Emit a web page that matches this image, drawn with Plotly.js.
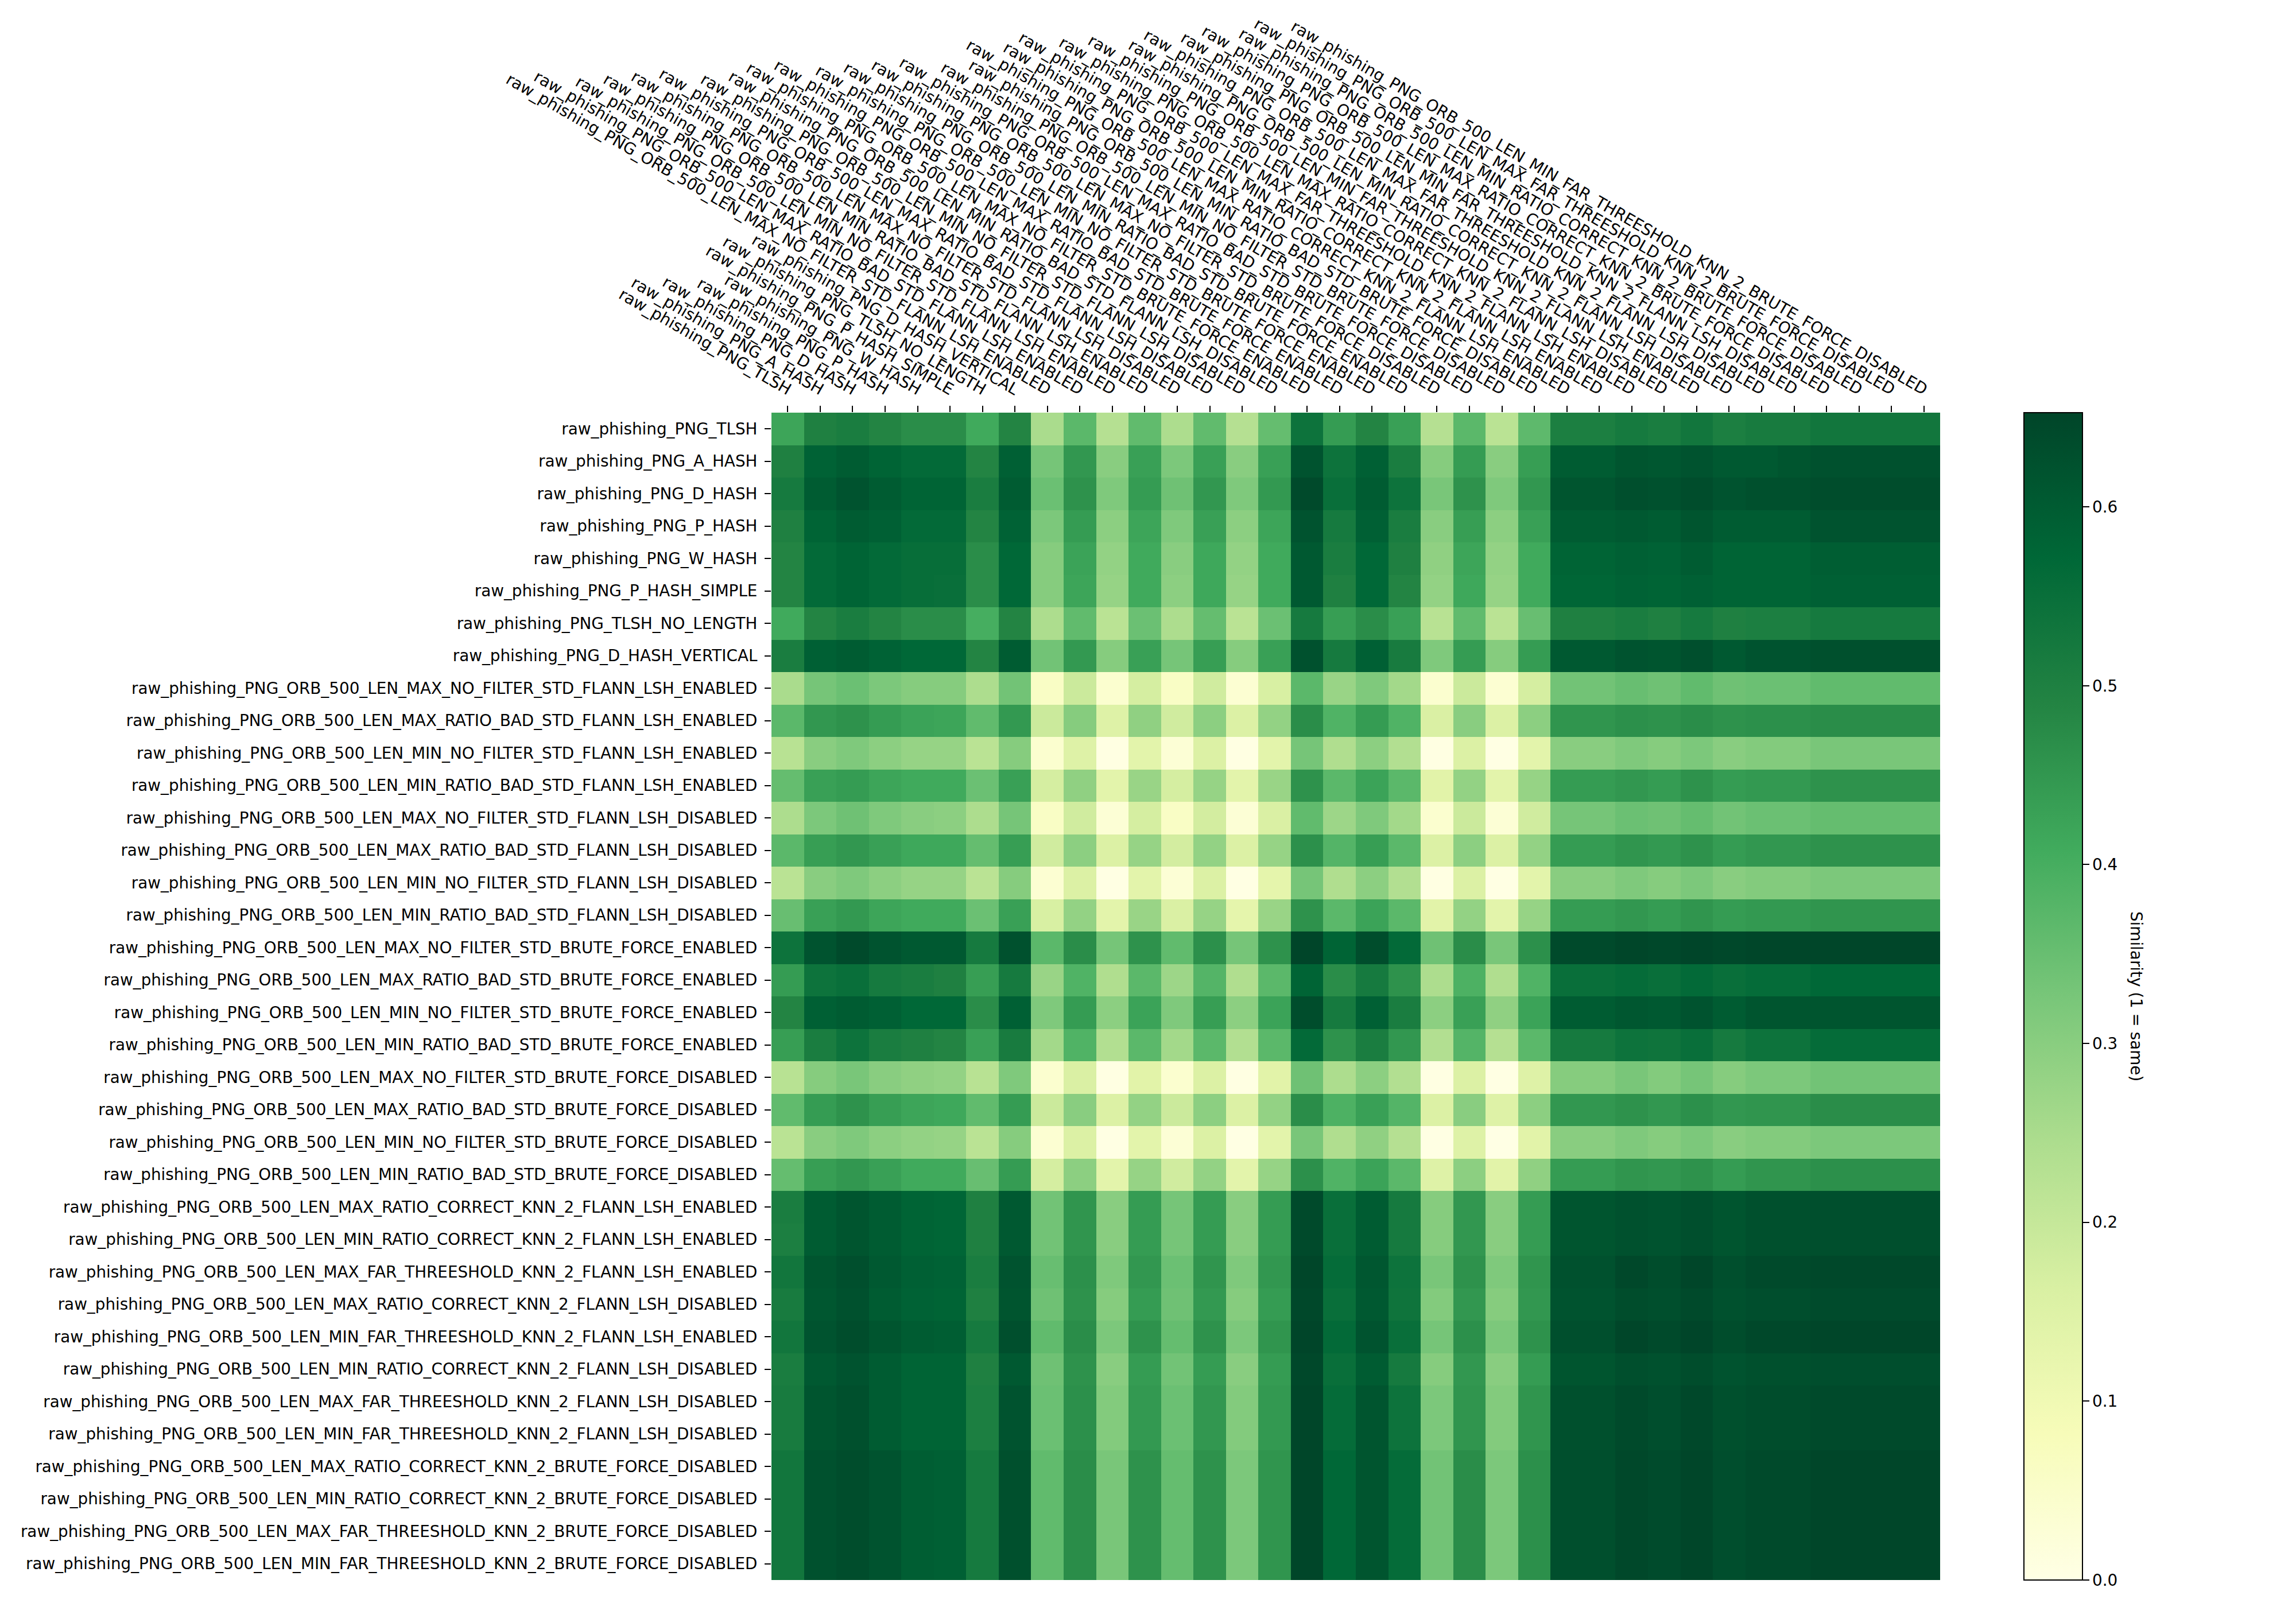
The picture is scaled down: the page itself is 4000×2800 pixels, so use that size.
<!DOCTYPE html>
<html>
<head>
<meta charset="utf-8">
<script src="https://cdn.plot.ly/plotly-3.0.1.min.js"></script>
<style>html,body{margin:0;padding:0;background:#fff;}#chart{width:4000px;height:2800px;}</style>
</head>
<body>
<div id="chart"></div>
<script>
const labels = [
  "raw_phishing_PNG_TLSH",
  "raw_phishing_PNG_A_HASH",
  "raw_phishing_PNG_D_HASH",
  "raw_phishing_PNG_P_HASH",
  "raw_phishing_PNG_W_HASH",
  "raw_phishing_PNG_P_HASH_SIMPLE",
  "raw_phishing_PNG_TLSH_NO_LENGTH",
  "raw_phishing_PNG_D_HASH_VERTICAL",
  "raw_phishing_PNG_ORB_500_LEN_MAX_NO_FILTER_STD_FLANN_LSH_ENABLED",
  "raw_phishing_PNG_ORB_500_LEN_MAX_RATIO_BAD_STD_FLANN_LSH_ENABLED",
  "raw_phishing_PNG_ORB_500_LEN_MIN_NO_FILTER_STD_FLANN_LSH_ENABLED",
  "raw_phishing_PNG_ORB_500_LEN_MIN_RATIO_BAD_STD_FLANN_LSH_ENABLED",
  "raw_phishing_PNG_ORB_500_LEN_MAX_NO_FILTER_STD_FLANN_LSH_DISABLED",
  "raw_phishing_PNG_ORB_500_LEN_MAX_RATIO_BAD_STD_FLANN_LSH_DISABLED",
  "raw_phishing_PNG_ORB_500_LEN_MIN_NO_FILTER_STD_FLANN_LSH_DISABLED",
  "raw_phishing_PNG_ORB_500_LEN_MIN_RATIO_BAD_STD_FLANN_LSH_DISABLED",
  "raw_phishing_PNG_ORB_500_LEN_MAX_NO_FILTER_STD_BRUTE_FORCE_ENABLED",
  "raw_phishing_PNG_ORB_500_LEN_MAX_RATIO_BAD_STD_BRUTE_FORCE_ENABLED",
  "raw_phishing_PNG_ORB_500_LEN_MIN_NO_FILTER_STD_BRUTE_FORCE_ENABLED",
  "raw_phishing_PNG_ORB_500_LEN_MIN_RATIO_BAD_STD_BRUTE_FORCE_ENABLED",
  "raw_phishing_PNG_ORB_500_LEN_MAX_NO_FILTER_STD_BRUTE_FORCE_DISABLED",
  "raw_phishing_PNG_ORB_500_LEN_MAX_RATIO_BAD_STD_BRUTE_FORCE_DISABLED",
  "raw_phishing_PNG_ORB_500_LEN_MIN_NO_FILTER_STD_BRUTE_FORCE_DISABLED",
  "raw_phishing_PNG_ORB_500_LEN_MIN_RATIO_BAD_STD_BRUTE_FORCE_DISABLED",
  "raw_phishing_PNG_ORB_500_LEN_MAX_RATIO_CORRECT_KNN_2_FLANN_LSH_ENABLED",
  "raw_phishing_PNG_ORB_500_LEN_MIN_RATIO_CORRECT_KNN_2_FLANN_LSH_ENABLED",
  "raw_phishing_PNG_ORB_500_LEN_MAX_FAR_THREESHOLD_KNN_2_FLANN_LSH_ENABLED",
  "raw_phishing_PNG_ORB_500_LEN_MAX_RATIO_CORRECT_KNN_2_FLANN_LSH_DISABLED",
  "raw_phishing_PNG_ORB_500_LEN_MIN_FAR_THREESHOLD_KNN_2_FLANN_LSH_ENABLED",
  "raw_phishing_PNG_ORB_500_LEN_MIN_RATIO_CORRECT_KNN_2_FLANN_LSH_DISABLED",
  "raw_phishing_PNG_ORB_500_LEN_MAX_FAR_THREESHOLD_KNN_2_FLANN_LSH_DISABLED",
  "raw_phishing_PNG_ORB_500_LEN_MIN_FAR_THREESHOLD_KNN_2_FLANN_LSH_DISABLED",
  "raw_phishing_PNG_ORB_500_LEN_MAX_RATIO_CORRECT_KNN_2_BRUTE_FORCE_DISABLED",
  "raw_phishing_PNG_ORB_500_LEN_MIN_RATIO_CORRECT_KNN_2_BRUTE_FORCE_DISABLED",
  "raw_phishing_PNG_ORB_500_LEN_MAX_FAR_THREESHOLD_KNN_2_BRUTE_FORCE_DISABLED",
  "raw_phishing_PNG_ORB_500_LEN_MIN_FAR_THREESHOLD_KNN_2_BRUTE_FORCE_DISABLED"
];

const similarity = [
[0.42,0.50,0.51,0.49,0.47,0.47,0.41,0.49, 0.25,0.37,0.23,0.36,0.245,0.36,0.23,0.355, 0.54,0.44,0.49,0.43, 0.23,0.37,0.22,0.365, 0.505,0.505,0.52,0.51,0.53,0.505,0.515,0.515, 0.53,0.53,0.53,0.53],
[0.50,0.585,0.60,0.58,0.565,0.565,0.49,0.59, 0.33,0.45,0.30,0.43,0.32,0.43,0.30,0.43, 0.62,0.54,0.59,0.51, 0.305,0.44,0.30,0.435, 0.60,0.60,0.615,0.61,0.62,0.605,0.605,0.615, 0.625,0.625,0.625,0.625],
[0.52,0.60,0.62,0.60,0.58,0.58,0.51,0.60, 0.345,0.46,0.315,0.44,0.34,0.45,0.315,0.445, 0.64,0.55,0.60,0.54, 0.325,0.46,0.315,0.45, 0.615,0.615,0.63,0.625,0.635,0.62,0.627,0.627, 0.635,0.635,0.635,0.635],
[0.50,0.58,0.60,0.59,0.565,0.565,0.49,0.585, 0.32,0.44,0.295,0.42,0.315,0.43,0.295,0.42, 0.62,0.52,0.59,0.51, 0.30,0.435,0.295,0.43, 0.60,0.60,0.605,0.60,0.615,0.60,0.60,0.60, 0.62,0.62,0.62,0.62],
[0.49,0.565,0.58,0.565,0.555,0.555,0.47,0.57, 0.305,0.425,0.285,0.41,0.30,0.415,0.285,0.41, 0.605,0.51,0.57,0.50, 0.29,0.42,0.285,0.41, 0.58,0.58,0.59,0.585,0.60,0.58,0.58,0.58, 0.595,0.595,0.595,0.595],
[0.49,0.565,0.58,0.565,0.555,0.55,0.47,0.57, 0.305,0.42,0.28,0.41,0.295,0.415,0.28,0.41, 0.605,0.50,0.57,0.49, 0.285,0.415,0.28,0.41, 0.575,0.575,0.585,0.58,0.59,0.58,0.58,0.58, 0.59,0.59,0.59,0.59],
[0.41,0.49,0.51,0.49,0.47,0.47,0.40,0.49, 0.245,0.36,0.22,0.345,0.245,0.355,0.22,0.345, 0.52,0.435,0.47,0.43, 0.225,0.36,0.22,0.35, 0.50,0.50,0.51,0.50,0.52,0.50,0.505,0.505, 0.52,0.52,0.52,0.52],
[0.51,0.59,0.60,0.585,0.57,0.57,0.49,0.60, 0.335,0.445,0.305,0.43,0.33,0.435,0.305,0.43, 0.625,0.52,0.59,0.515, 0.315,0.44,0.305,0.44, 0.605,0.605,0.62,0.615,0.63,0.605,0.62,0.62, 0.627,0.627,0.627,0.627],
[0.25,0.33,0.345,0.32,0.305,0.305,0.245,0.335, 0.06,0.19,0.04,0.17,0.06,0.18,0.035,0.165, 0.37,0.275,0.315,0.26, 0.04,0.19,0.035,0.17, 0.335,0.335,0.35,0.34,0.36,0.34,0.345,0.345, 0.36,0.36,0.36,0.36],
[0.37,0.45,0.46,0.44,0.425,0.42,0.36,0.445, 0.19,0.305,0.15,0.29,0.18,0.295,0.155,0.285, 0.47,0.385,0.44,0.385, 0.16,0.30,0.155,0.295, 0.455,0.455,0.465,0.46,0.47,0.46,0.465,0.465, 0.47,0.47,0.47,0.47],
[0.225,0.30,0.315,0.295,0.28,0.28,0.22,0.305, 0.04,0.15,0.005,0.135,0.03,0.155,0.005,0.135, 0.33,0.24,0.295,0.235, 0.005,0.155,0.003,0.135, 0.30,0.30,0.315,0.305,0.32,0.30,0.31,0.31, 0.325,0.325,0.325,0.325],
[0.355,0.43,0.44,0.42,0.41,0.41,0.345,0.43, 0.17,0.29,0.135,0.275,0.17,0.28,0.135,0.275, 0.46,0.37,0.425,0.37, 0.14,0.285,0.135,0.28, 0.44,0.44,0.45,0.44,0.46,0.44,0.445,0.445, 0.46,0.46,0.46,0.46],
[0.245,0.32,0.34,0.315,0.30,0.295,0.245,0.33, 0.06,0.18,0.03,0.17,0.06,0.175,0.03,0.16, 0.36,0.27,0.315,0.26, 0.04,0.19,0.03,0.18, 0.33,0.33,0.345,0.34,0.355,0.335,0.345,0.345, 0.355,0.355,0.355,0.355],
[0.37,0.435,0.45,0.43,0.415,0.415,0.355,0.435, 0.18,0.295,0.155,0.28,0.175,0.285,0.155,0.28, 0.465,0.38,0.435,0.37, 0.155,0.295,0.155,0.285, 0.44,0.44,0.455,0.445,0.46,0.44,0.45,0.45, 0.46,0.46,0.46,0.46],
[0.22,0.30,0.315,0.295,0.28,0.28,0.22,0.305, 0.035,0.155,0.004,0.135,0.03,0.155,0.003,0.13, 0.33,0.24,0.295,0.235, 0.005,0.155,0.003,0.135, 0.30,0.30,0.315,0.305,0.32,0.30,0.31,0.31, 0.32,0.32,0.32,0.32],
[0.35,0.43,0.445,0.42,0.41,0.41,0.345,0.43, 0.165,0.285,0.135,0.275,0.16,0.28,0.13,0.275, 0.46,0.37,0.425,0.37, 0.14,0.285,0.135,0.28, 0.44,0.44,0.45,0.44,0.455,0.44,0.445,0.445, 0.455,0.455,0.455,0.455],
[0.54,0.62,0.64,0.62,0.605,0.605,0.52,0.625, 0.37,0.47,0.33,0.46,0.36,0.465,0.33,0.46, 0.653,0.58,0.635,0.565, 0.34,0.47,0.325,0.465, 0.64,0.64,0.65,0.645,0.653,0.645,0.65,0.65, 0.65,0.65,0.65,0.65],
[0.44,0.54,0.55,0.52,0.51,0.50,0.435,0.52, 0.275,0.385,0.24,0.37,0.27,0.38,0.24,0.37, 0.58,0.47,0.52,0.46, 0.245,0.39,0.24,0.385, 0.55,0.55,0.56,0.55,0.565,0.55,0.56,0.56, 0.57,0.57,0.57,0.57],
[0.49,0.59,0.60,0.59,0.57,0.57,0.47,0.59, 0.315,0.44,0.295,0.425,0.315,0.435,0.295,0.425, 0.635,0.52,0.59,0.51, 0.295,0.43,0.29,0.425, 0.60,0.60,0.61,0.605,0.62,0.60,0.615,0.615, 0.615,0.615,0.615,0.615],
[0.435,0.51,0.54,0.51,0.50,0.49,0.43,0.515, 0.26,0.385,0.235,0.37,0.26,0.37,0.235,0.37, 0.565,0.46,0.51,0.45, 0.235,0.38,0.23,0.37, 0.52,0.52,0.54,0.535,0.55,0.52,0.54,0.54, 0.56,0.56,0.56,0.56],
[0.225,0.305,0.325,0.30,0.29,0.285,0.225,0.315, 0.04,0.16,0.005,0.14,0.04,0.155,0.005,0.14, 0.34,0.245,0.295,0.235, 0.005,0.155,0.003,0.15, 0.305,0.305,0.325,0.31,0.33,0.305,0.32,0.32, 0.335,0.335,0.335,0.335],
[0.36,0.44,0.46,0.435,0.42,0.415,0.36,0.44, 0.19,0.30,0.155,0.285,0.19,0.295,0.155,0.285, 0.47,0.39,0.43,0.38, 0.155,0.30,0.15,0.295, 0.45,0.45,0.46,0.45,0.465,0.45,0.455,0.455, 0.47,0.47,0.47,0.47],
[0.22,0.30,0.315,0.295,0.285,0.28,0.22,0.305, 0.035,0.155,0.003,0.135,0.03,0.155,0.003,0.135, 0.325,0.24,0.29,0.23, 0.003,0.15,0.002,0.14, 0.30,0.30,0.315,0.305,0.32,0.30,0.31,0.31, 0.32,0.32,0.32,0.32],
[0.355,0.435,0.45,0.43,0.41,0.41,0.35,0.44, 0.17,0.295,0.135,0.28,0.18,0.285,0.135,0.28, 0.465,0.385,0.425,0.37, 0.15,0.295,0.14,0.29, 0.44,0.44,0.455,0.45,0.46,0.44,0.455,0.455, 0.465,0.465,0.465,0.465],
[0.51,0.60,0.615,0.60,0.58,0.575,0.50,0.605, 0.335,0.455,0.30,0.44,0.33,0.44,0.30,0.44, 0.64,0.55,0.60,0.52, 0.305,0.45,0.30,0.44, 0.615,0.615,0.625,0.62,0.63,0.615,0.627,0.627, 0.63,0.63,0.63,0.63],
[0.505,0.60,0.615,0.60,0.58,0.575,0.50,0.605, 0.335,0.455,0.30,0.44,0.33,0.44,0.30,0.44, 0.64,0.55,0.60,0.52, 0.305,0.45,0.30,0.44, 0.615,0.615,0.625,0.62,0.63,0.615,0.627,0.627, 0.63,0.63,0.63,0.63],
[0.53,0.615,0.63,0.605,0.59,0.585,0.51,0.62, 0.35,0.465,0.315,0.45,0.345,0.455,0.315,0.45, 0.65,0.56,0.61,0.54, 0.325,0.46,0.315,0.455, 0.625,0.625,0.645,0.635,0.65,0.63,0.64,0.64, 0.645,0.645,0.645,0.645],
[0.515,0.61,0.625,0.60,0.585,0.58,0.50,0.615, 0.34,0.46,0.305,0.44,0.34,0.445,0.305,0.44, 0.645,0.55,0.605,0.535, 0.31,0.45,0.305,0.45, 0.62,0.62,0.635,0.63,0.64,0.625,0.632,0.632, 0.638,0.638,0.638,0.638],
[0.53,0.62,0.635,0.615,0.60,0.595,0.52,0.63, 0.36,0.47,0.32,0.46,0.355,0.46,0.32,0.455, 0.653,0.565,0.62,0.55, 0.33,0.465,0.32,0.46, 0.63,0.63,0.65,0.64,0.653,0.635,0.645,0.645, 0.65,0.65,0.65,0.65],
[0.51,0.605,0.62,0.60,0.58,0.58,0.50,0.605, 0.34,0.46,0.30,0.44,0.335,0.44,0.30,0.44, 0.645,0.55,0.60,0.52, 0.305,0.45,0.30,0.44, 0.615,0.615,0.63,0.625,0.635,0.62,0.627,0.627, 0.632,0.632,0.632,0.632],
[0.515,0.615,0.627,0.60,0.58,0.58,0.505,0.62, 0.345,0.465,0.31,0.445,0.345,0.45,0.31,0.445, 0.65,0.56,0.615,0.54, 0.32,0.455,0.31,0.455, 0.627,0.627,0.64,0.632,0.645,0.627,0.635,0.635, 0.642,0.642,0.642,0.642],
[0.515,0.615,0.627,0.60,0.58,0.58,0.505,0.62, 0.345,0.465,0.31,0.445,0.345,0.45,0.31,0.445, 0.65,0.56,0.615,0.54, 0.32,0.455,0.31,0.455, 0.627,0.627,0.64,0.632,0.645,0.627,0.635,0.635, 0.642,0.642,0.642,0.642],
[0.53,0.625,0.635,0.62,0.595,0.59,0.52,0.627, 0.36,0.47,0.325,0.46,0.355,0.46,0.32,0.455, 0.65,0.57,0.615,0.56, 0.335,0.47,0.32,0.465, 0.63,0.63,0.645,0.638,0.65,0.632,0.642,0.642, 0.65,0.65,0.65,0.65],
[0.53,0.625,0.635,0.62,0.595,0.59,0.52,0.627, 0.36,0.47,0.325,0.46,0.355,0.46,0.32,0.455, 0.65,0.57,0.615,0.56, 0.335,0.47,0.32,0.465, 0.63,0.63,0.645,0.638,0.65,0.632,0.642,0.642, 0.65,0.65,0.65,0.65],
[0.53,0.625,0.635,0.62,0.595,0.59,0.52,0.627, 0.36,0.47,0.325,0.46,0.355,0.46,0.32,0.455, 0.65,0.57,0.615,0.56, 0.335,0.47,0.32,0.465, 0.63,0.63,0.645,0.638,0.65,0.632,0.642,0.642, 0.65,0.65,0.65,0.65],
[0.53,0.625,0.635,0.62,0.595,0.59,0.52,0.627, 0.36,0.47,0.325,0.46,0.355,0.46,0.32,0.455, 0.65,0.57,0.615,0.56, 0.335,0.47,0.32,0.465, 0.63,0.63,0.645,0.638,0.65,0.632,0.642,0.642, 0.65,0.65,0.65,0.65]
];

const colorbarTicks = [0, 0.1, 0.2, 0.3, 0.4, 0.5, 0.6];
const colorbarTickText = ["0.0", "0.1", "0.2", "0.3", "0.4", "0.5", "0.6"];
const colorbarTitle = "Similarity (1 = same)";

const FONT = "DejaVu Sans, Liberation Sans, sans-serif";
const FS = 27.8;
const ylgn = [[0,'#ffffe5'],[0.125,'#f7fcb9'],[0.25,'#d9f0a3'],[0.375,'#addd8e'],[0.5,'#78c679'],[0.625,'#41ab5d'],[0.75,'#238443'],[0.875,'#006837'],[1,'#004529']];

const trace = {
  type: 'heatmap',
  x: labels,
  y: labels,
  z: similarity,
  zmin: 0,
  zmax: 0.6527,
  colorscale: ylgn,
  showscale: true,
  hoverongaps: false,
  colorbar: {
    x: 1.0717, xanchor: 'left',
    y: 0.5, yanchor: 'middle',
    len: 1, lenmode: 'fraction',
    thickness: 102, thicknessmode: 'pixels',
    outlinewidth: 2, outlinecolor: '#000',
    ticks: 'outside', ticklen: 11, tickwidth: 2, tickcolor: '#000',
    tickvals: colorbarTicks, ticktext: colorbarTickText,
    tickfont: {family: FONT, size: FS, color: '#000'},
    xpad: 0, ypad: 0
  }
};

const layout = {
  width: 4000, height: 2800,
  margin: {l: 1344, r: 620, t: 719, b: 47, pad: 0},
  paper_bgcolor: '#fff', plot_bgcolor: '#fff',
  font: {family: FONT, size: FS, color: '#000'},
  xaxis: {
    side: 'top', type: 'category',
    tickangle: 30,
    ticks: 'outside', ticklen: 11, tickwidth: 2, tickcolor: '#000',
    ticklabelshift: 6, ticklabelstandoff: 5,
    showgrid: false, zeroline: false, showline: false,
    tickfont: {family: FONT, size: FS, color: '#000'},
    automargin: false
  },
  yaxis: {
    type: 'category', autorange: 'reversed',
    ticks: 'outside', ticklen: 11, tickwidth: 2, tickcolor: '#000',
    ticklabelstandoff: 7,
    showgrid: false, zeroline: false, showline: false,
    tickfont: {family: FONT, size: FS, color: '#000'},
    automargin: false
  },
  annotations: [{
    text: colorbarTitle, textangle: 90,
    xref: 'paper', yref: 'paper', x: 1.168, y: 0.5,
    xanchor: 'center', yanchor: 'middle', showarrow: false,
    font: {family: FONT, size: FS, color: '#000'}
  }]
};

Plotly.newPlot('chart', [trace], layout, {staticPlot: true, displayModeBar: false});
</script>
</body>
</html>
